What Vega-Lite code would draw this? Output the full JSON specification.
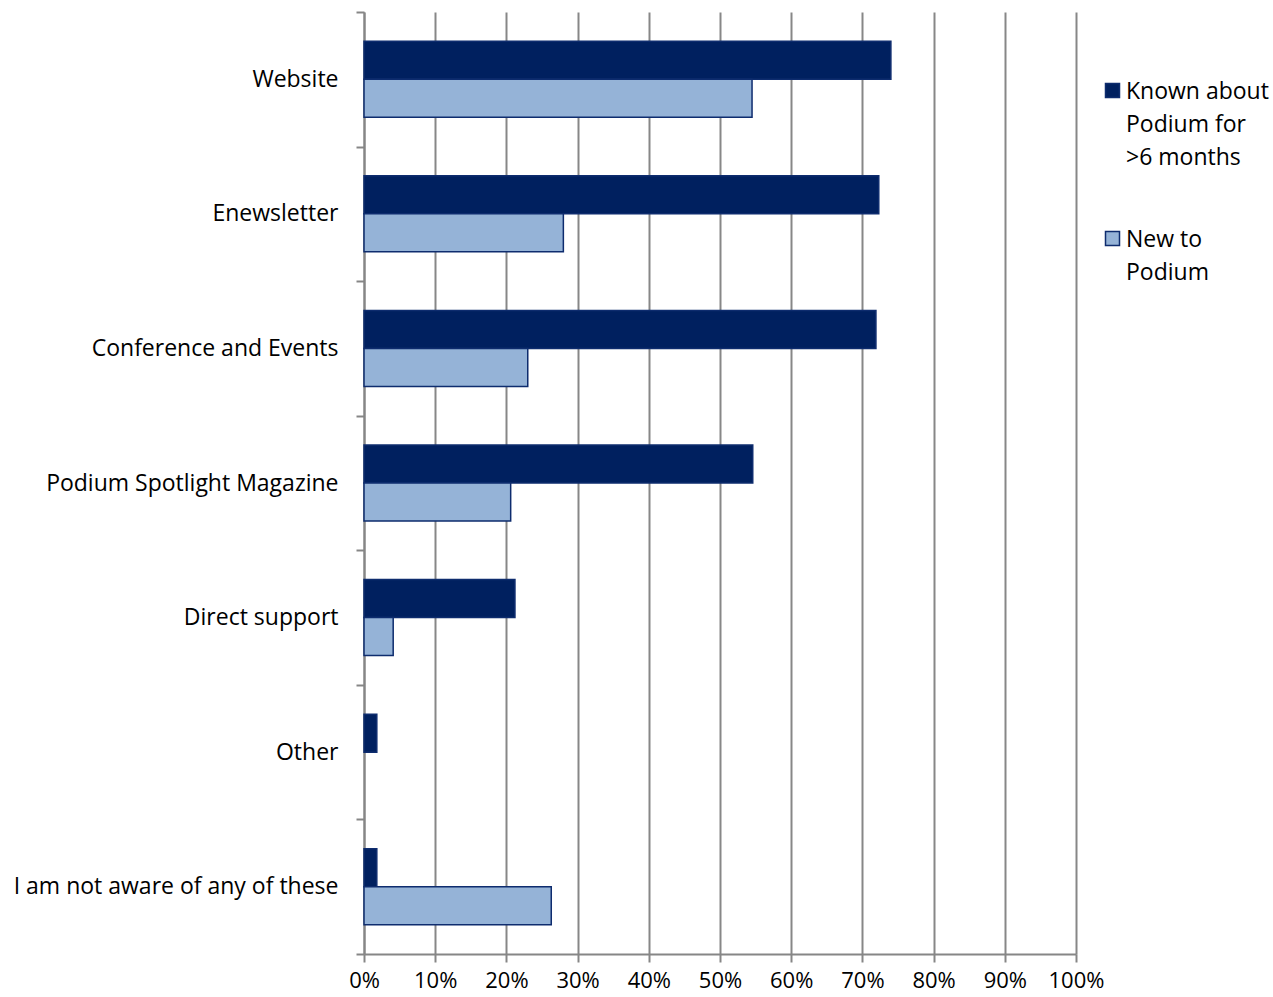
{
  "$schema": "https://vega.github.io/schema/vega-lite/v6.json",
  "width": 712,
  "height": 942,
  "autosize": {"type": "none"},
  "padding": {"left": 364, "top": 12, "right": 197, "bottom": 43},
  "background": "white",
  "config": {
    "view": {"stroke": null},
    "font": "Open Sans",
    "axis": {"labelFont": "Open Sans", "labelColor": "#000000", "labelFontSize": 23, "labelLimit": 400},
    "legend": {"labelFont": "Open Sans", "labelColor": "#000000", "labelFontSize": 23, "labelLimit": 300}
  },
  "data": {
    "values": [
      {"source": "Website", "group": "Known about Podium for >6 months", "value": 0.74},
      {"source": "Website", "group": "New to Podium", "value": 0.545},
      {"source": "Enewsletter", "group": "Known about Podium for >6 months", "value": 0.723},
      {"source": "Enewsletter", "group": "New to Podium", "value": 0.28},
      {"source": "Conference and Events", "group": "Known about Podium for >6 months", "value": 0.719},
      {"source": "Conference and Events", "group": "New to Podium", "value": 0.23},
      {"source": "Podium Spotlight Magazine", "group": "Known about Podium for >6 months", "value": 0.546},
      {"source": "Podium Spotlight Magazine", "group": "New to Podium", "value": 0.206},
      {"source": "Direct support", "group": "Known about Podium for >6 months", "value": 0.212},
      {"source": "Direct support", "group": "New to Podium", "value": 0.041},
      {"source": "Other", "group": "Known about Podium for >6 months", "value": 0.018},
      {"source": "Other", "group": "New to Podium", "value": 0},
      {"source": "I am not aware of any of these", "group": "Known about Podium for >6 months", "value": 0.018},
      {"source": "I am not aware of any of these", "group": "New to Podium", "value": 0.263}
    ]
  },
  "mark": {"type": "bar", "stroke": "#0E2C6E", "strokeWidth": 1.5},
  "encoding": {
    "y": {
      "field": "source",
      "type": "nominal",
      "sort": ["Website", "Enewsletter", "Conference and Events", "Podium Spotlight Magazine", "Direct support", "Other", "I am not aware of any of these"],
      "scale": {"paddingInner": 0, "paddingOuter": 0},
      "axis": {
        "title": null,
        "tickBand": "extent",
        "tickSize": 8,
        "tickColor": "#868686",
        "tickWidth": 2,
        "domainColor": "#868686",
        "domainWidth": 2,
        "labelPadding": 18,
        "grid": false
      }
    },
    "yOffset": {
      "field": "group",
      "type": "nominal",
      "sort": ["Known about Podium for >6 months", "New to Podium"],
      "scale": {"paddingInner": 0, "paddingOuter": 0.77}
    },
    "x": {
      "field": "value",
      "type": "quantitative",
      "scale": {"domain": [0, 1], "nice": false},
      "axis": {
        "title": null,
        "format": ".0%",
        "values": [0, 0.1, 0.2, 0.3, 0.4, 0.5, 0.6, 0.7, 0.8, 0.9, 1],
        "grid": true,
        "gridColor": "#878787",
        "gridWidth": 2,
        "tickSize": 8,
        "tickColor": "#868686",
        "tickWidth": 2,
        "domainColor": "#868686",
        "domainWidth": 2,
        "labelFontSize": 22,
        "labelPadding": 8,
        "labelFlush": false
      }
    },
    "strokeOpacity": {
      "condition": {"test": "datum.value == 0", "value": 0},
      "value": 1
    },
    "color": {
      "field": "group",
      "type": "nominal",
      "sort": ["Known about Podium for >6 months", "New to Podium"],
      "scale": {"domain": ["Known about Podium for >6 months", "New to Podium"], "range": ["#00205F", "#95B3D7"]},
      "legend": {
        "title": null,
        "orient": "none",
        "legendX": 737,
        "legendY": 67,
        "symbolType": "square",
        "symbolSize": 196,
        "symbolStrokeColor": "#0E2C6E",
        "symbolStrokeWidth": 1.5,
        "labelOffset": 2,
        "rowPadding": 57,
        "labelBaseline": "alphabetic",
        "labelExpr": "datum.label == 'New to Podium' ? ['New to', 'Podium'] : ['Known about', 'Podium for', '>6 months']",
        "encode": {"labels": {"update": {"lineHeight": {"value": 33}, "dy": {"value": 8}}}}
      }
    }
  }
}
